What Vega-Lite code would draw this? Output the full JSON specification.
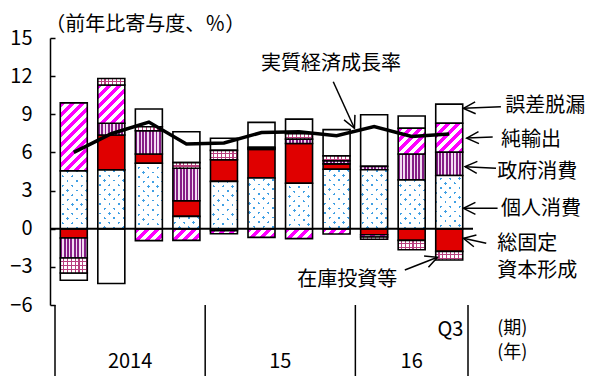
{
  "$schema": "https://vega.github.io/schema/vega-lite/v6.json",
  "width": 423,
  "height": 267,
  "autosize": {"type": "none"},
  "padding": {"left": 50, "top": 38, "right": 120, "bottom": 71},
  "background": "white",
  "config": {
    "view": {"stroke": null},
    "axisY": {
      "domainColor": "black", "domainWidth": 1.5,
      "tickColor": "black", "tickWidth": 1.5, "tickSize": -5,
      "labelPadding": 23, "labelFontSize": 20, "labelFont": "Noto Sans CJK JP",
      "labelColor": "black", "grid": false, "labelFlush": false, "labelOverlap": false
    }
  },
  "params": [
    {"name": "magStops", "value": [
      {"offset": 0, "color": "#ff00ff"}, {"offset": 0.045455, "color": "#ff00ff"}, {"offset": 0.045455, "color": "#ffffff"}, {"offset": 0.090909, "color": "#ffffff"},
      {"offset": 0.090909, "color": "#ff00ff"}, {"offset": 0.136364, "color": "#ff00ff"}, {"offset": 0.136364, "color": "#ffffff"}, {"offset": 0.181818, "color": "#ffffff"},
      {"offset": 0.181818, "color": "#ff00ff"}, {"offset": 0.227273, "color": "#ff00ff"}, {"offset": 0.227273, "color": "#ffffff"}, {"offset": 0.272727, "color": "#ffffff"},
      {"offset": 0.272727, "color": "#ff00ff"}, {"offset": 0.318182, "color": "#ff00ff"}, {"offset": 0.318182, "color": "#ffffff"}, {"offset": 0.363636, "color": "#ffffff"},
      {"offset": 0.363636, "color": "#ff00ff"}, {"offset": 0.409091, "color": "#ff00ff"}, {"offset": 0.409091, "color": "#ffffff"}, {"offset": 0.454545, "color": "#ffffff"},
      {"offset": 0.454545, "color": "#ff00ff"}, {"offset": 0.5, "color": "#ff00ff"}, {"offset": 0.5, "color": "#ffffff"}, {"offset": 0.545455, "color": "#ffffff"},
      {"offset": 0.545455, "color": "#ff00ff"}, {"offset": 0.590909, "color": "#ff00ff"}, {"offset": 0.590909, "color": "#ffffff"}, {"offset": 0.636364, "color": "#ffffff"},
      {"offset": 0.636364, "color": "#ff00ff"}, {"offset": 0.681818, "color": "#ff00ff"}, {"offset": 0.681818, "color": "#ffffff"}, {"offset": 0.727273, "color": "#ffffff"},
      {"offset": 0.727273, "color": "#ff00ff"}, {"offset": 0.772727, "color": "#ff00ff"}, {"offset": 0.772727, "color": "#ffffff"}, {"offset": 0.818182, "color": "#ffffff"},
      {"offset": 0.818182, "color": "#ff00ff"}, {"offset": 0.863636, "color": "#ff00ff"}, {"offset": 0.863636, "color": "#ffffff"}, {"offset": 0.909091, "color": "#ffffff"},
      {"offset": 0.909091, "color": "#ff00ff"}, {"offset": 0.954545, "color": "#ff00ff"}, {"offset": 0.954545, "color": "#ffffff"}, {"offset": 1, "color": "#ffffff"}
    ]},
    {"name": "dotA", "value": [
      {"offset": 0, "color": "#ffffff"}, {"offset": 0.06025, "color": "#ffffff"}, {"offset": 0.06025, "color": "#3f9fe4"}, {"offset": 0.083333, "color": "#3f9fe4"},
      {"offset": 0.083333, "color": "#ffffff"}, {"offset": 0.143583, "color": "#ffffff"}, {"offset": 0.143583, "color": "#3f9fe4"}, {"offset": 0.166667, "color": "#3f9fe4"},
      {"offset": 0.166667, "color": "#ffffff"}, {"offset": 0.226917, "color": "#ffffff"}, {"offset": 0.226917, "color": "#3f9fe4"}, {"offset": 0.25, "color": "#3f9fe4"},
      {"offset": 0.25, "color": "#ffffff"}, {"offset": 0.31025, "color": "#ffffff"}, {"offset": 0.31025, "color": "#3f9fe4"}, {"offset": 0.333333, "color": "#3f9fe4"},
      {"offset": 0.333333, "color": "#ffffff"}, {"offset": 0.393583, "color": "#ffffff"}, {"offset": 0.393583, "color": "#3f9fe4"}, {"offset": 0.416667, "color": "#3f9fe4"},
      {"offset": 0.416667, "color": "#ffffff"}, {"offset": 0.476917, "color": "#ffffff"}, {"offset": 0.476917, "color": "#3f9fe4"}, {"offset": 0.5, "color": "#3f9fe4"},
      {"offset": 0.5, "color": "#ffffff"}, {"offset": 0.56025, "color": "#ffffff"}, {"offset": 0.56025, "color": "#3f9fe4"}, {"offset": 0.583333, "color": "#3f9fe4"},
      {"offset": 0.583333, "color": "#ffffff"}, {"offset": 0.643583, "color": "#ffffff"}, {"offset": 0.643583, "color": "#3f9fe4"}, {"offset": 0.666667, "color": "#3f9fe4"},
      {"offset": 0.666667, "color": "#ffffff"}, {"offset": 0.726917, "color": "#ffffff"}, {"offset": 0.726917, "color": "#3f9fe4"}, {"offset": 0.75, "color": "#3f9fe4"},
      {"offset": 0.75, "color": "#ffffff"}, {"offset": 0.81025, "color": "#ffffff"}, {"offset": 0.81025, "color": "#3f9fe4"}, {"offset": 0.833333, "color": "#3f9fe4"},
      {"offset": 0.833333, "color": "#ffffff"}, {"offset": 0.893583, "color": "#ffffff"}, {"offset": 0.893583, "color": "#3f9fe4"}, {"offset": 0.916667, "color": "#3f9fe4"},
      {"offset": 0.916667, "color": "#ffffff"}, {"offset": 0.976917, "color": "#ffffff"}, {"offset": 0.976917, "color": "#3f9fe4"}, {"offset": 1, "color": "#3f9fe4"}
    ]},
    {"name": "dotB", "value": [
      {"offset": 0, "color": "#ffffff"}, {"offset": 0.06025, "color": "#ffffff"}, {"offset": 0.06025, "color": "rgba(255,255,255,0)"}, {"offset": 0.083333, "color": "rgba(255,255,255,0)"},
      {"offset": 0.083333, "color": "#ffffff"}, {"offset": 0.143583, "color": "#ffffff"}, {"offset": 0.143583, "color": "rgba(255,255,255,0)"}, {"offset": 0.166667, "color": "rgba(255,255,255,0)"},
      {"offset": 0.166667, "color": "#ffffff"}, {"offset": 0.226917, "color": "#ffffff"}, {"offset": 0.226917, "color": "rgba(255,255,255,0)"}, {"offset": 0.25, "color": "rgba(255,255,255,0)"},
      {"offset": 0.25, "color": "#ffffff"}, {"offset": 0.31025, "color": "#ffffff"}, {"offset": 0.31025, "color": "rgba(255,255,255,0)"}, {"offset": 0.333333, "color": "rgba(255,255,255,0)"},
      {"offset": 0.333333, "color": "#ffffff"}, {"offset": 0.393583, "color": "#ffffff"}, {"offset": 0.393583, "color": "rgba(255,255,255,0)"}, {"offset": 0.416667, "color": "rgba(255,255,255,0)"},
      {"offset": 0.416667, "color": "#ffffff"}, {"offset": 0.476917, "color": "#ffffff"}, {"offset": 0.476917, "color": "rgba(255,255,255,0)"}, {"offset": 0.5, "color": "rgba(255,255,255,0)"},
      {"offset": 0.5, "color": "#ffffff"}, {"offset": 0.56025, "color": "#ffffff"}, {"offset": 0.56025, "color": "rgba(255,255,255,0)"}, {"offset": 0.583333, "color": "rgba(255,255,255,0)"},
      {"offset": 0.583333, "color": "#ffffff"}, {"offset": 0.643583, "color": "#ffffff"}, {"offset": 0.643583, "color": "rgba(255,255,255,0)"}, {"offset": 0.666667, "color": "rgba(255,255,255,0)"},
      {"offset": 0.666667, "color": "#ffffff"}, {"offset": 0.726917, "color": "#ffffff"}, {"offset": 0.726917, "color": "rgba(255,255,255,0)"}, {"offset": 0.75, "color": "rgba(255,255,255,0)"},
      {"offset": 0.75, "color": "#ffffff"}, {"offset": 0.81025, "color": "#ffffff"}, {"offset": 0.81025, "color": "rgba(255,255,255,0)"}, {"offset": 0.833333, "color": "rgba(255,255,255,0)"},
      {"offset": 0.833333, "color": "#ffffff"}, {"offset": 0.893583, "color": "#ffffff"}, {"offset": 0.893583, "color": "rgba(255,255,255,0)"}, {"offset": 0.916667, "color": "rgba(255,255,255,0)"},
      {"offset": 0.916667, "color": "#ffffff"}, {"offset": 0.976917, "color": "#ffffff"}, {"offset": 0.976917, "color": "rgba(255,255,255,0)"}, {"offset": 1, "color": "rgba(255,255,255,0)"}
    ]},
    {"name": "pinkRows", "value": [
      {"offset": 0, "color": "rgba(255,255,255,0)"}, {"offset": 0.11667, "color": "rgba(255,255,255,0)"}, {"offset": 0.11667, "color": "#b8407e"}, {"offset": 0.16667, "color": "#b8407e"},
      {"offset": 0.16667, "color": "rgba(255,255,255,0)"}, {"offset": 0.28333, "color": "rgba(255,255,255,0)"}, {"offset": 0.28333, "color": "#b8407e"}, {"offset": 0.33333, "color": "#b8407e"},
      {"offset": 0.33333, "color": "rgba(255,255,255,0)"}, {"offset": 0.45, "color": "rgba(255,255,255,0)"}, {"offset": 0.45, "color": "#b8407e"}, {"offset": 0.5, "color": "#b8407e"},
      {"offset": 0.5, "color": "rgba(255,255,255,0)"}, {"offset": 0.61667, "color": "rgba(255,255,255,0)"}, {"offset": 0.61667, "color": "#b8407e"}, {"offset": 0.66667, "color": "#b8407e"},
      {"offset": 0.66667, "color": "rgba(255,255,255,0)"}, {"offset": 0.78333, "color": "rgba(255,255,255,0)"}, {"offset": 0.78333, "color": "#b8407e"}, {"offset": 0.83333, "color": "#b8407e"},
      {"offset": 0.83333, "color": "rgba(255,255,255,0)"}, {"offset": 0.95, "color": "rgba(255,255,255,0)"}, {"offset": 0.95, "color": "#b8407e"}, {"offset": 1, "color": "#b8407e"}
    ]}
  ],
  "datasets": {
    "comp": [
      {"q": "2014Q1", "i": 0, "s": "個人消費", "o": 1, "v": 4.55},
      {"q": "2014Q1", "i": 0, "s": "総固定資本形成", "o": 2, "v": -0.73},
      {"q": "2014Q1", "i": 0, "s": "政府消費", "o": 3, "v": -1.57},
      {"q": "2014Q1", "i": 0, "s": "純輸出", "o": 4, "v": 5.35},
      {"q": "2014Q1", "i": 0, "s": "在庫投資等", "o": 5, "v": -1.18},
      {"q": "2014Q1", "i": 0, "s": "誤差脱漏", "o": 6, "v": -0.57},
      {"q": "2014Q2", "i": 1, "s": "個人消費", "o": 1, "v": 4.63},
      {"q": "2014Q2", "i": 1, "s": "総固定資本形成", "o": 2, "v": 2.74},
      {"q": "2014Q2", "i": 1, "s": "政府消費", "o": 3, "v": 0.92},
      {"q": "2014Q2", "i": 1, "s": "純輸出", "o": 4, "v": 3.01},
      {"q": "2014Q2", "i": 1, "s": "在庫投資等", "o": 5, "v": 0.52},
      {"q": "2014Q2", "i": 1, "s": "誤差脱漏", "o": 6, "v": -4.31},
      {"q": "2014Q3", "i": 2, "s": "個人消費", "o": 1, "v": 5.15},
      {"q": "2014Q3", "i": 2, "s": "総固定資本形成", "o": 2, "v": 0.73},
      {"q": "2014Q3", "i": 2, "s": "政府消費", "o": 3, "v": 1.82},
      {"q": "2014Q3", "i": 2, "s": "純輸出", "o": 4, "v": -0.94},
      {"q": "2014Q3", "i": 2, "s": "在庫投資等", "o": 5, "v": 0.32},
      {"q": "2014Q3", "i": 2, "s": "誤差脱漏", "o": 6, "v": 1.39},
      {"q": "2014Q4", "i": 3, "s": "個人消費", "o": 1, "v": 0.97},
      {"q": "2014Q4", "i": 3, "s": "総固定資本形成", "o": 2, "v": 1.23},
      {"q": "2014Q4", "i": 3, "s": "政府消費", "o": 3, "v": 2.56},
      {"q": "2014Q4", "i": 3, "s": "純輸出", "o": 4, "v": -0.92},
      {"q": "2014Q4", "i": 3, "s": "在庫投資等", "o": 5, "v": 0.44},
      {"q": "2014Q4", "i": 3, "s": "誤差脱漏", "o": 6, "v": 2.43},
      {"q": "2015Q1", "i": 4, "s": "個人消費", "o": 1, "v": 3.72},
      {"q": "2015Q1", "i": 4, "s": "総固定資本形成", "o": 2, "v": 1.70},
      {"q": "2015Q1", "i": 4, "s": "政府消費", "o": 3, "v": -0.15},
      {"q": "2015Q1", "i": 4, "s": "純輸出", "o": 4, "v": -0.25},
      {"q": "2015Q1", "i": 4, "s": "在庫投資等", "o": 5, "v": 0.74},
      {"q": "2015Q1", "i": 4, "s": "誤差脱漏", "o": 6, "v": 0.95},
      {"q": "2015Q2", "i": 5, "s": "個人消費", "o": 1, "v": 3.99},
      {"q": "2015Q2", "i": 5, "s": "総固定資本形成", "o": 2, "v": 2.25},
      {"q": "2015Q2", "i": 5, "s": "政府消費", "o": 3, "v": 0.08},
      {"q": "2015Q2", "i": 5, "s": "純輸出", "o": 4, "v": -0.68},
      {"q": "2015Q2", "i": 5, "s": "在庫投資等", "o": 5, "v": 0.08},
      {"q": "2015Q2", "i": 5, "s": "誤差脱漏", "o": 6, "v": 1.96},
      {"q": "2015Q3", "i": 6, "s": "個人消費", "o": 1, "v": 3.58},
      {"q": "2015Q3", "i": 6, "s": "総固定資本形成", "o": 2, "v": 3.12},
      {"q": "2015Q3", "i": 6, "s": "政府消費", "o": 3, "v": 0.35},
      {"q": "2015Q3", "i": 6, "s": "純輸出", "o": 4, "v": -0.78},
      {"q": "2015Q3", "i": 6, "s": "在庫投資等", "o": 5, "v": 0.42},
      {"q": "2015Q3", "i": 6, "s": "誤差脱漏", "o": 6, "v": 1.15},
      {"q": "2015Q4", "i": 7, "s": "個人消費", "o": 1, "v": 4.68},
      {"q": "2015Q4", "i": 7, "s": "総固定資本形成", "o": 2, "v": 0.42},
      {"q": "2015Q4", "i": 7, "s": "政府消費", "o": 3, "v": 0.25},
      {"q": "2015Q4", "i": 7, "s": "純輸出", "o": 4, "v": -0.42},
      {"q": "2015Q4", "i": 7, "s": "在庫投資等", "o": 5, "v": 0.38},
      {"q": "2015Q4", "i": 7, "s": "誤差脱漏", "o": 6, "v": 2.06},
      {"q": "2016Q1", "i": 8, "s": "個人消費", "o": 1, "v": 4.64},
      {"q": "2016Q1", "i": 8, "s": "総固定資本形成", "o": 2, "v": -0.47},
      {"q": "2016Q1", "i": 8, "s": "政府消費", "o": 3, "v": 0.26},
      {"q": "2016Q1", "i": 8, "s": "純輸出", "o": 4, "v": -0.18},
      {"q": "2016Q1", "i": 8, "s": "在庫投資等", "o": 5, "v": -0.18},
      {"q": "2016Q1", "i": 8, "s": "誤差脱漏", "o": 6, "v": 4.06},
      {"q": "2016Q2", "i": 9, "s": "個人消費", "o": 1, "v": 3.84},
      {"q": "2016Q2", "i": 9, "s": "総固定資本形成", "o": 2, "v": -0.92},
      {"q": "2016Q2", "i": 9, "s": "政府消費", "o": 3, "v": 2.04},
      {"q": "2016Q2", "i": 9, "s": "純輸出", "o": 4, "v": 2.02},
      {"q": "2016Q2", "i": 9, "s": "在庫投資等", "o": 5, "v": -0.73},
      {"q": "2016Q2", "i": 9, "s": "誤差脱漏", "o": 6, "v": 0.96},
      {"q": "2016Q3", "i": 10, "s": "個人消費", "o": 1, "v": 4.18},
      {"q": "2016Q3", "i": 10, "s": "総固定資本形成", "o": 2, "v": -1.78},
      {"q": "2016Q3", "i": 10, "s": "政府消費", "o": 3, "v": 1.84},
      {"q": "2016Q3", "i": 10, "s": "純輸出", "o": 4, "v": 2.27},
      {"q": "2016Q3", "i": 10, "s": "在庫投資等", "o": 5, "v": -0.68},
      {"q": "2016Q3", "i": 10, "s": "誤差脱漏", "o": 6, "v": 1.51}
    ],
    "growth": [
      {"q": "2014Q1", "i": 0, "g": 6.0},
      {"q": "2014Q2", "i": 1, "g": 7.47},
      {"q": "2014Q3", "i": 2, "g": 8.39},
      {"q": "2014Q4", "i": 3, "g": 6.66},
      {"q": "2015Q1", "i": 4, "g": 6.74},
      {"q": "2015Q2", "i": 5, "g": 7.57},
      {"q": "2015Q3", "i": 6, "g": 7.63},
      {"q": "2015Q4", "i": 7, "g": 7.31},
      {"q": "2016Q1", "i": 8, "g": 8.04},
      {"q": "2016Q2", "i": 9, "g": 7.26},
      {"q": "2016Q3", "i": 10, "g": 7.44}
    ],
    "seps": [{"i": -0.5}, {"i": 3.5}, {"i": 7.5}, {"i": 10.5}],
    "arrows": [
      {"name": "誤差脱漏", "hx": 10.378, "hy": 9.47, "tx": 11.376, "ty": 9.6},
      {"name": "純輸出", "hx": 10.466, "hy": 7.13, "tx": 11.158, "ty": 7.21},
      {"name": "政府消費", "hx": 10.422, "hy": 4.88, "tx": 11.246, "ty": 4.75},
      {"name": "個人消費", "hx": 10.378, "hy": 1.6, "tx": 11.288, "ty": 1.6},
      {"name": "総固定資本形成", "hx": 10.378, "hy": -0.755, "tx": 10.986, "ty": -1.148},
      {"name": "在庫投資等", "hx": 9.686, "hy": -2.25, "tx": 8.817, "ty": -3.25},
      {"name": "実質経済成長率", "hx": 7.476, "hy": 7.9, "tx": 6.911, "ty": 11.56}
    ],
    "labelsL": [
      {"t": "（前年比寄与度、％）", "x": -0.76, "y": 16.02},
      {"t": "実質経済成長率", "x": 4.99, "y": 12.95},
      {"t": "誤差脱漏", "x": 11.49, "y": 9.65},
      {"t": "純輸出", "x": 11.38, "y": 6.98},
      {"t": "政府消費", "x": 11.28, "y": 4.46},
      {"t": "個人消費", "x": 11.38, "y": 1.55},
      {"t": "総固定", "x": 11.28, "y": -1.2},
      {"t": "資本形成", "x": 11.28, "y": -3.33},
      {"t": "在庫投資等", "x": 5.95, "y": -4.03}
    ],
    "labelsS": [
      {"t": "(期)", "x": 11.28, "y": -7.9},
      {"t": "(年)", "x": 11.28, "y": -9.8}
    ],
    "labelsC": [
      {"t": "Q3", "x": 10.03, "y": -7.97},
      {"t": "2014", "x": 1.5, "y": -10.5},
      {"t": "15", "x": 5.5, "y": -10.5},
      {"t": "16", "x": 9.0, "y": -10.5}
    ]
  },
  "layer": [
    {
      "data": {"name": "comp"},
      "transform": [
        {"stack": "v", "groupby": ["q"], "sort": [{"field": "o", "order": "ascending"}], "as": ["y0", "y1"]}
      ],
      "encoding": {
        "x": {"field": "i", "type": "quantitative", "scale": {"domain": [-0.5, 10.5], "nice": false, "zero": false}, "axis": null},
        "y": {"field": "y0", "type": "quantitative", "scale": {"domain": [-6, 15], "nice": false, "zero": false}, "title": null, "axis": {"values": [-6, -3, 0, 3, 6, 9, 12, 15], "tickCount": 20, "labelOverlap": false}},
        "y2": {"field": "y1"}
      },
      "layer": [
        {
          "transform": [{"filter": "datum.s === '総固定資本形成'"}],
          "mark": {"type": "bar", "width": 27, "fill": "#e00000", "stroke": "black", "strokeWidth": 1.6}
        },
        {
          "transform": [{"filter": "datum.s === '誤差脱漏'"}],
          "mark": {"type": "bar", "width": 27, "fill": "#ffffff", "stroke": "black", "strokeWidth": 1.6}
        },
        {
          "transform": [{"filter": "datum.s === '政府消費'"}],
          "mark": {"type": "bar", "width": 27, "stroke": "black", "strokeWidth": 1.6,
            "fill": {"gradient": "linear", "x1": 0, "y1": 0, "x2": 1, "y2": 0, "stops": [
              {"offset": 0, "color": "#861e86"}, {"offset": 0.06875, "color": "#861e86"}, {"offset": 0.06875, "color": "#f2dcf2"}, {"offset": 0.125, "color": "#f2dcf2"},
              {"offset": 0.125, "color": "#861e86"}, {"offset": 0.19375, "color": "#861e86"}, {"offset": 0.19375, "color": "#f2dcf2"}, {"offset": 0.25, "color": "#f2dcf2"},
              {"offset": 0.25, "color": "#861e86"}, {"offset": 0.31875, "color": "#861e86"}, {"offset": 0.31875, "color": "#f2dcf2"}, {"offset": 0.375, "color": "#f2dcf2"},
              {"offset": 0.375, "color": "#861e86"}, {"offset": 0.44375, "color": "#861e86"}, {"offset": 0.44375, "color": "#f2dcf2"}, {"offset": 0.5, "color": "#f2dcf2"},
              {"offset": 0.5, "color": "#861e86"}, {"offset": 0.56875, "color": "#861e86"}, {"offset": 0.56875, "color": "#f2dcf2"}, {"offset": 0.625, "color": "#f2dcf2"},
              {"offset": 0.625, "color": "#861e86"}, {"offset": 0.69375, "color": "#861e86"}, {"offset": 0.69375, "color": "#f2dcf2"}, {"offset": 0.75, "color": "#f2dcf2"},
              {"offset": 0.75, "color": "#861e86"}, {"offset": 0.81875, "color": "#861e86"}, {"offset": 0.81875, "color": "#f2dcf2"}, {"offset": 0.875, "color": "#f2dcf2"},
              {"offset": 0.875, "color": "#861e86"}, {"offset": 0.94375, "color": "#861e86"}, {"offset": 0.94375, "color": "#f2dcf2"}, {"offset": 1, "color": "#f2dcf2"}
            ]}
          }
        },
        {
          "transform": [{"filter": "datum.s === '純輸出'"}],
          "mark": {"type": "bar", "width": 27, "stroke": "black", "strokeWidth": 1.6,
            "fill": {"expr": "{gradient: 'linear', x1: 0, y1: 0, x2: 110*27/(729+pow(scale('y',datum.y0)-scale('y',datum.y1),2)), y2: 110*abs(scale('y',datum.y0)-scale('y',datum.y1))/(729+pow(scale('y',datum.y0)-scale('y',datum.y1),2)), stops: magStops}"}
          }
        },
        {
          "transform": [{"filter": "datum.s === '個人消費'"}],
          "mark": {"type": "bar", "width": 27,
            "fill": {"expr": "{gradient: 'linear', x1: 0, y1: 0, x2: 112.8*27/(729+pow(scale('y',datum.y0)-scale('y',datum.y1),2)), y2: 112.8*abs(scale('y',datum.y0)-scale('y',datum.y1))/(729+pow(scale('y',datum.y0)-scale('y',datum.y1),2)), stops: dotA}"}
          }
        },
        {
          "transform": [{"filter": "datum.s === '個人消費'"}],
          "mark": {"type": "bar", "width": 27, "stroke": "black", "strokeWidth": 1.6,
            "fill": {"expr": "{gradient: 'linear', x1: 0, y1: 1, x2: 112.8*27/(729+pow(scale('y',datum.y0)-scale('y',datum.y1),2)), y2: 1-112.8*abs(scale('y',datum.y0)-scale('y',datum.y1))/(729+pow(scale('y',datum.y0)-scale('y',datum.y1),2)), stops: dotB}"}
          }
        },
        {
          "transform": [{"filter": "datum.s === '在庫投資等'"}],
          "mark": {"type": "bar", "width": 27,
            "fill": {"gradient": "linear", "x1": 0, "y1": 0, "x2": 1, "y2": 0, "stops": [
              {"offset": 0, "color": "#ffffff"}, {"offset": 0.1, "color": "#ffffff"}, {"offset": 0.1, "color": "#b8407e"}, {"offset": 0.142857, "color": "#b8407e"},
              {"offset": 0.142857, "color": "#ffffff"}, {"offset": 0.242857, "color": "#ffffff"}, {"offset": 0.242857, "color": "#b8407e"}, {"offset": 0.285714, "color": "#b8407e"},
              {"offset": 0.285714, "color": "#ffffff"}, {"offset": 0.385714, "color": "#ffffff"}, {"offset": 0.385714, "color": "#b8407e"}, {"offset": 0.428571, "color": "#b8407e"},
              {"offset": 0.428571, "color": "#ffffff"}, {"offset": 0.528571, "color": "#ffffff"}, {"offset": 0.528571, "color": "#b8407e"}, {"offset": 0.571429, "color": "#b8407e"},
              {"offset": 0.571429, "color": "#ffffff"}, {"offset": 0.671429, "color": "#ffffff"}, {"offset": 0.671429, "color": "#b8407e"}, {"offset": 0.714286, "color": "#b8407e"},
              {"offset": 0.714286, "color": "#ffffff"}, {"offset": 0.814286, "color": "#ffffff"}, {"offset": 0.814286, "color": "#b8407e"}, {"offset": 0.857143, "color": "#b8407e"},
              {"offset": 0.857143, "color": "#ffffff"}, {"offset": 0.957143, "color": "#ffffff"}, {"offset": 0.957143, "color": "#b8407e"}, {"offset": 1, "color": "#b8407e"}
            ]}
          }
        },
        {
          "transform": [{"filter": "datum.s === '在庫投資等'"}],
          "mark": {"type": "bar", "width": 27, "stroke": "black", "strokeWidth": 1.6,
            "fill": {"expr": "{gradient: 'linear', x1: 0, y1: 0, x2: 0, y2: 24/max(0.5, abs(scale('y',datum.y0)-scale('y',datum.y1))), stops: pinkRows}"}
          }
        }
      ]
    },
    {
      "data": {"name": "growth"},
      "mark": {"type": "line", "stroke": "black", "strokeWidth": 3.5},
      "encoding": {
        "x": {"field": "i", "type": "quantitative", "axis": null},
        "y": {"field": "g", "type": "quantitative", "title": null}
      }
    },
    {
      "data": {"values": [{"z": 0}]},
      "mark": {"type": "rule", "stroke": "black", "strokeWidth": 2},
      "encoding": {
        "y": {"field": "z", "type": "quantitative", "title": null}
      }
    },
    {
      "data": {"name": "seps"},
      "mark": {"type": "rule", "stroke": "black", "strokeWidth": 1.5},
      "encoding": {
        "x": {"field": "i", "type": "quantitative", "axis": null},
        "y": {"datum": -6},
        "y2": {"datum": -11.6}
      }
    },
    {
      "data": {"name": "arrows"},
      "mark": {"type": "rule", "stroke": "black", "strokeWidth": 1.5},
      "encoding": {
        "x": {"field": "hx", "type": "quantitative", "axis": null},
        "y": {"field": "hy", "type": "quantitative", "title": null},
        "x2": {"field": "tx"},
        "y2": {"field": "ty"}
      }
    },
    {
      "data": {"name": "arrows"},
      "mark": {"type": "point", "shape": "M2,-1L0,0L2,1", "filled": false, "stroke": "black", "strokeWidth": 1.5, "size": 144, "opacity": 1,
        "angle": {"expr": "atan2(scale('y',datum.ty)-scale('y',datum.hy), scale('x',datum.tx)-scale('x',datum.hx))*180/PI"}},
      "encoding": {
        "x": {"field": "hx", "type": "quantitative", "axis": null},
        "y": {"field": "hy", "type": "quantitative", "title": null}
      }
    },
    {
      "data": {"name": "labelsL"},
      "mark": {"type": "text", "align": "left", "baseline": "middle", "fontSize": 20, "font": "Noto Sans CJK JP", "color": "black"},
      "encoding": {
        "x": {"field": "x", "type": "quantitative", "axis": null},
        "y": {"field": "y", "type": "quantitative", "title": null},
        "text": {"field": "t"}
      }
    },
    {
      "data": {"name": "labelsS"},
      "mark": {"type": "text", "align": "left", "baseline": "middle", "fontSize": 18, "font": "Noto Sans CJK JP", "color": "black"},
      "encoding": {
        "x": {"field": "x", "type": "quantitative", "axis": null},
        "y": {"field": "y", "type": "quantitative", "title": null},
        "text": {"field": "t"}
      }
    },
    {
      "data": {"name": "labelsC"},
      "mark": {"type": "text", "align": "center", "baseline": "middle", "fontSize": 20, "font": "Noto Sans CJK JP", "color": "black"},
      "encoding": {
        "x": {"field": "x", "type": "quantitative", "axis": null},
        "y": {"field": "y", "type": "quantitative", "title": null},
        "text": {"field": "t"}
      }
    }
  ]
}
